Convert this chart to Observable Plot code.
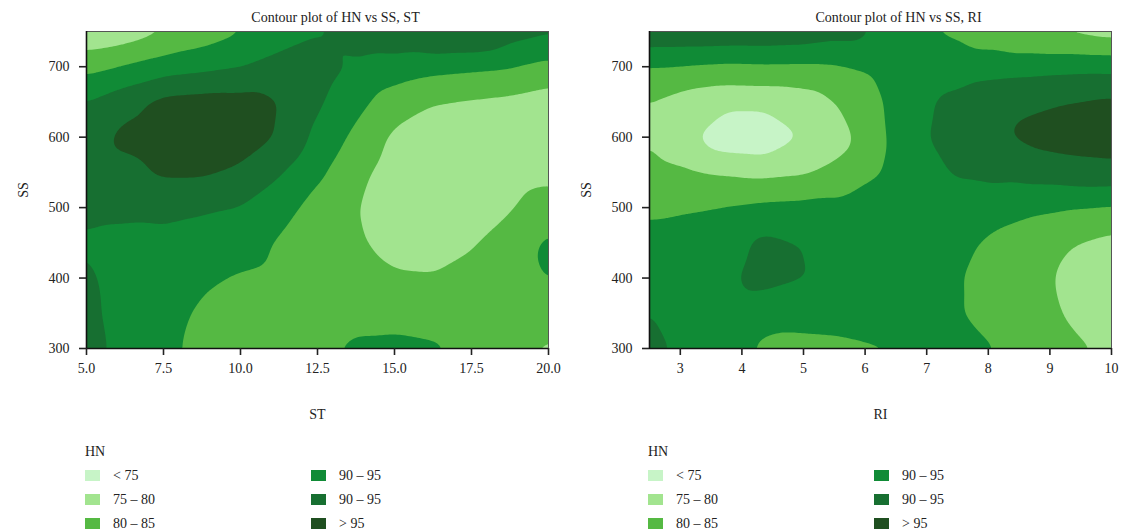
<!DOCTYPE html>
<html>
<head>
<meta charset="utf-8">
<script src="https://cdn.jsdelivr.net/npm/d3@7"></script>
<script src="https://cdn.jsdelivr.net/npm/@observablehq/plot@0.6"></script>
<style>
  body { margin: 0; background: #fff; font-family: 'Liberation Serif', 'DejaVu Serif', serif; color: #222; }
  #wrap { display: flex; width: 1123px; }
  .panel { position: relative; }
  .legend { position: relative; height: 107px; font-size: 14px; }
  .legend .t { position: absolute; line-height: 24px; white-space: nowrap; }
  .legend .sw { position: absolute; width: 15px; height: 11px; }
</style>
</head>
<body>
<div id="wrap"></div>
<script>
// ---------- data ----------
const hnBreaks = [75, 80, 85, 90, 95];
const hnLabels = ["< 75", "75 – 80", "80 – 85", "90 – 95", "90 – 95", "> 95"];
const hnColors = ["#c7f4c7", "#a2e48f", "#55b943", "#108b36", "#176f31", "#1f4f20"];

const ssGrid = [300, 350, 400, 450, 500, 550, 600, 650, 700, 750];
const ssTicks = [300, 400, 500, 600, 700];

const stGrid = [5, 6.25, 7.5, 8.75, 10, 11.25, 12.5, 13.75, 15, 16.25, 17.5, 18.75, 20];
const stTicks = [5, 7.5, 10, 12.5, 15, 17.5, 20];
const riGrid = [2.5, 3.125, 3.75, 4.375, 5, 5.625, 6.25, 6.875, 7.5, 8.125, 8.75, 9.375, 10];
const riTicks = [3, 4, 5, 6, 7, 8, 9, 10];

// HN; one inner array per ST value, entries follow ssGrid (300 -> 750)
const hnST = [
  [91.5, 91.2, 90.8, 89.7, 90.6, 92.5, 92.6, 90.1, 83.4, 76],
  [88.7, 88.1, 88.1, 89.3, 90.6, 93.3, 96.3, 93.3, 85.4, 77],
  [86.5, 87, 88, 89, 91, 95.8, 97.5, 96.5, 87.5, 79.5],
  [83.3, 84.2, 85.8, 88.3, 90.5, 95.8, 98, 97, 88.6, 82],
  [82.5, 83.3, 84.5, 87.3, 89.8, 94.3, 97, 96.8, 89.8, 84.5],
  [82, 83, 83.8, 84.5, 87.3, 90.5, 94.8, 95.2, 91.8, 87.5],
  [84, 83, 82, 81.7, 83, 86, 88.7, 90.8, 92.3, 89.6],
  [85.9, 83.5, 82, 80.6, 80.2, 81.5, 83.8, 86.5, 89.3, 92.5],
  [86.3, 83.2, 80.5, 78.6, 77.8, 77.8, 79, 82.5, 88, 93.8],
  [85.7, 82.7, 80.3, 78.2, 77.3, 77.3, 78, 80.1, 86.7, 96],
  [83.5, 82.3, 81, 79.7, 78.2, 77.5, 77.8, 79.4, 86, 96],
  [81.5, 82.3, 82.8, 81.5, 79.7, 78.3, 78, 78.8, 85.3, 92.3],
  [79, 83, 85.3, 86.2, 82, 78.8, 77.3, 77.5, 83.5, 91]
];

// HN; one inner array per RI value, entries follow ssGrid (300 -> 750)
const hnRI = [
  [91.2, 90.1, 88.5, 86.8, 84, 81.8, 79.6, 79.9, 85, 94],
  [88.9, 88.5, 88, 87, 84.6, 80.6, 76, 77.5, 84.6, 94],
  [87, 88, 89.2, 88, 85.3, 79.5, 71.5, 76.3, 84, 94],
  [84.2, 86.5, 91.8, 91.2, 86.2, 78.7, 71, 76.5, 84.3, 94],
  [83.5, 87, 90.2, 89.9, 86.5, 79.3, 75.3, 77.5, 84.2, 93.5],
  [83.7, 87.5, 88.5, 88.5, 86.3, 81.5, 78.3, 80.6, 84.7, 92],
  [84.6, 87.5, 88.5, 88.5, 87, 85, 84.2, 84.6, 86.2, 89.5],
  [87, 88, 88.5, 88.3, 88, 88.5, 89.3, 89.2, 87.5, 85.4],
  [86.8, 85.3, 85.4, 86.8, 88.5, 90.4, 92.2, 91.2, 87.5, 84.3],
  [85, 83.3, 82.6, 83.5, 87.5, 91.3, 94.3, 93.5, 88, 82],
  [83, 81.8, 81.5, 82.3, 85.8, 92.3, 96.3, 94.3, 88.3, 79.8],
  [80.8, 79.3, 78.6, 80.1, 85.1, 93.2, 97, 95.2, 88.6, 78.8],
  [79.3, 77.5, 77, 78.5, 84.5, 93.5, 97.5, 96, 88.5, 77.8]
];

// ---------- drawing ----------
function panel(o) {
  const pts = [];
  o.cols.forEach((col, j) => col.forEach((v, i) => pts.push({x: o.xs[j], y: ssGrid[i], hn: v})));
  const x0 = o.xDomain[0];
  const svg = Plot.plot({
    width: o.width,
    height: 425,
    marginTop: 31,
    marginBottom: 77,
    marginLeft: o.marginLeft,
    marginRight: o.marginRight,
    style: {fontFamily: "'Liberation Serif', serif", fontSize: "14px", color: "#222", background: "white"},
    x: {domain: o.xDomain},
    y: {domain: [300, 750]},
    color: {type: "threshold", domain: hnBreaks, range: hnColors},
    marks: [
      Plot.frame({fill: hnColors[0]}),
      Plot.contour(pts, {x: "x", y: "y", fill: "hn", thresholds: hnBreaks, interpolate: "barycentric", blur: 3, stroke: "none"}),
      Plot.frame({stroke: "#555", strokeWidth: 1}),
      Plot.ruleY([300], {stroke: "#111", strokeWidth: 1.6}),
      Plot.ruleX([x0], {stroke: "#111", strokeWidth: 1.6}),
      Plot.axisX({ticks: o.xTicks, tickFormat: o.xFmt, tickSize: 7, tickPadding: 8, strokeWidth: 1.6,
        label: o.xLabel, labelAnchor: "center", labelOffset: 70, labelArrow: "none", fontSize: 14}),
      Plot.axisY({ticks: ssTicks, tickSize: 7, tickPadding: 10, strokeWidth: 1.6,
        label: "SS", labelAnchor: "center", labelOffset: 68, labelArrow: "none", fontSize: 14}),
      Plot.text([o.title], {frameAnchor: "top", lineAnchor: "middle", dy: -14, dx: o.titleDx, fontSize: 14, fill: "#222"})
    ]
  });
  return svg;
}

function legend(left) {
  const div = document.createElement("div");
  div.className = "legend";
  const hn = document.createElement("div");
  hn.className = "t";
  hn.style.left = left + "px";
  hn.style.top = "0px";
  hn.textContent = "HN";
  div.appendChild(hn);
  hnLabels.forEach((lab, k) => {
    const col = k < 3 ? 0 : 1;
    const row = k % 3;
    const x = left + col * 226;
    const y = 24 + row * 24;
    const sw = document.createElement("div");
    sw.className = "sw";
    sw.style.left = x + "px";
    sw.style.top = (y + 6) + "px";
    sw.style.background = hnColors[k];
    div.appendChild(sw);
    const t = document.createElement("div");
    t.className = "t";
    t.style.left = (x + 28) + "px";
    t.style.top = y + "px";
    t.textContent = lab;
    div.appendChild(t);
  });
  return div;
}

const wrap = document.getElementById("wrap");
const specs = [
  {xs: stGrid, cols: hnST, xDomain: [5, 20], xTicks: stTicks, xFmt: d3.format(".1f"), xLabel: "ST",
   title: "Contour plot of HN vs SS, ST", width: 561, marginLeft: 86, marginRight: 13, titleDx: 18, legendLeft: 85},
  {xs: riGrid, cols: hnRI, xDomain: [2.5, 10], xTicks: riTicks, xFmt: d3.format("d"), xLabel: "RI",
   title: "Contour plot of HN vs SS, RI", width: 562, marginLeft: 88, marginRight: 12, titleDx: 18, legendLeft: 87}
];
specs.forEach(s => {
  const p = document.createElement("div");
  p.className = "panel";
  p.style.width = s.width + "px";
  p.appendChild(panel(s));
  const lg = legend(s.legendLeft);
  lg.style.marginTop = "15px";
  p.appendChild(lg);
  wrap.appendChild(p);
});
</script>
</body>
</html>
